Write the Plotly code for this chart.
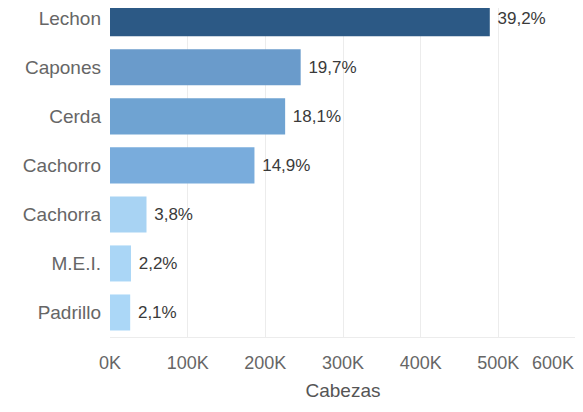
import plotly.graph_objects as go

categorias = ['Lechon', 'Capones', 'Cerda', 'Cachorro', 'Cachorra', 'M.E.I.', 'Padrillo']
cabezas = [489000, 245500, 225500, 186000, 47000, 27000, 26000]
porcentajes = ['39,2%', '19,7%', '18,1%', '14,9%', '3,8%', '2,2%', '2,1%']
colores = ['#2c5985', '#6a9bcb', '#6fa3d2', '#79acdc', '#a8d3f3', '#aad6f6', '#abd7f7']
tick_vals = [0, 100000, 200000, 300000, 400000, 500000]
tick_text = ['0K', '100K', '200K', '300K', '400K', '500K']

fig = go.Figure()
fig.add_trace(go.Bar(
    y=categorias,
    x=cabezas,
    orientation='h',
    marker_color=colores,
    marker_line_width=0,
    text=porcentajes,
    texttemplate=' %{text}',
    textposition='outside',
    textfont=dict(size=17, color='#3a3a3a'),
    cliponaxis=False,
    hoverinfo='skip',
))

# the page body has an 8px margin, so the figure is 8px smaller than the window
fig.update_layout(
    width=575, height=404,
    margin=dict(l=102, r=7, t=0, b=75),
    plot_bgcolor='white',
    paper_bgcolor='white',
    font=dict(family='Arial, Liberation Sans, sans-serif', size=17, color='#666666'),
    bargap=0.265,
    showlegend=False,
    annotations=[dict(
        x=600000, y=0, xref='x', yref='paper',
        text='600K', showarrow=False,
        xanchor='right', yanchor='top', yshift=-14,
        font=dict(size=18, color='#666666'),
    )],
)
fig.update_xaxes(
    range=[0, 600000],
    tickvals=tick_vals + [600000],
    ticktext=tick_text + [''],
    tickfont=dict(size=18, color='#666666'),
    showgrid=True, gridcolor='#ececec', gridwidth=1,
    zeroline=False,
    showline=True, linecolor='#ececec',
    ticks='', ticklabelstandoff=9,
    automargin=False,
    title=dict(text='Cabezas', standoff=12, font=dict(size=19, color='#555555')),
)
fig.update_yaxes(
    categoryorder='array', categoryarray=categorias,
    range=[6.5, -0.21],
    tickfont=dict(size=19, color='#666666'),
    showgrid=False, zeroline=False,
    ticks='', ticklabelstandoff=8,
    automargin=False,
)

fig.write_html("out.html")
